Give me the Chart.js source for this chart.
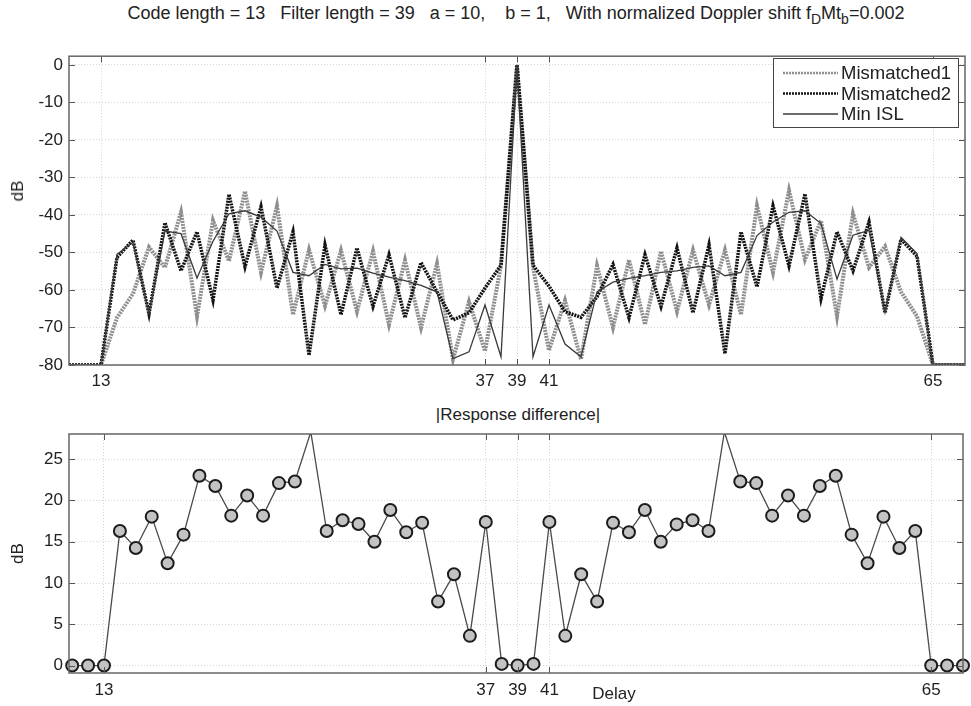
<!DOCTYPE html>
<html lang="en">
<head>
<meta charset="UTF-8">
<title>Code length 13 / Filter length 39</title>
<script src="https://cdn.jsdelivr.net/npm/chart.js"></script>
<style>
  body { margin: 0; background: #fff; font-family: "Liberation Sans", Arial, sans-serif; color: #222; }
  #wrap { position: relative; width: 971px; height: 706px; overflow: hidden; }
  .txt { position: absolute; white-space: nowrap; transform: translateX(-50%); font-size: 18px; line-height: 20px; }
  #mainTitle { left: 516px; top: 3px; }
  #mainTitle sub { font-size: 14px; vertical-align: -5px; line-height: 0; }
  #diffTitle { left: 518px; top: 405px; font-size: 17px; }
  #delayLabel { left: 614px; top: 684px; font-size: 17px; }
  #topDb { position: absolute; left: 18px; top: 191px; transform: translate(-50%, -50%) rotate(-90deg);
           font-size: 17px; line-height: 20px; white-space: nowrap; }
  #topBox { position: absolute; left: 0; top: 40px; }
  #bottomBox { position: absolute; left: 0; top: 400px; }
</style>
</head>
<body>
<div id="wrap">
  <div class="txt" id="mainTitle">Code length = 13&nbsp;&nbsp;&nbsp;Filter length = 39&nbsp;&nbsp;&nbsp;a = 10,&nbsp;&nbsp;&nbsp;&nbsp;b = 1,&nbsp;&nbsp;&nbsp;With normalized Doppler shift f<sub>D</sub>Mt<sub>b</sub>=0.002</div>
  <div id="topBox"><canvas id="topChart" width="971" height="360"></canvas></div>
  <div id="topDb">dB</div>
  <div class="txt" id="diffTitle">|Response difference|</div>
  <div id="bottomBox"><canvas id="bottomChart" width="971" height="306"></canvas></div>
  <div class="txt" id="delayLabel">Delay</div>
</div>

<script>
// delay axis (samples)
var delays = [11, 12, 13, 14, 15, 16, 17, 18, 19, 20, 21, 22, 23, 24, 25, 26, 27, 28, 29, 30,
              31, 32, 33, 34, 35, 36, 37, 38, 39, 40, 41, 42, 43, 44, 45, 46, 47, 48, 49, 50,
              51, 52, 53, 54, 55, 56, 57, 58, 59, 60, 61, 62, 63, 64, 65, 66, 67];

// responses in dB
var mismatched1 = [-80, -80, -80, -67.4, -61.0, -48.6, -54.0, -39.3, -67.0, -41.5,
                   -52.3, -33.7, -55.3, -37.6, -66.6, -49.3, -64.2, -49.5, -65.7, -49.7,
                   -69.2, -52.1, -70.0, -53.0, -78.5, -63.1, -76.3, -53.5, 0, -54.0,
                   -76.1, -62.8, -78.5, -53.6, -70.0, -52.0, -69.2, -49.7, -65.7, -49.4,
                   -64.0, -49.4, -66.6, -37.6, -55.3, -33.5, -51.9, -41.5, -67.0, -39.7,
                   -54.0, -48.4, -60.5, -67.0, -80, -80, -80];

var mismatched2 = [-80, -80, -80, -51.3, -46.7, -66.4, -42.1, -54.9, -44.5, -62.7,
                   -34.5, -53.8, -37.8, -59.5, -44.5, -77.4, -48.0, -66.6, -48.8, -64.4,
                   -50.6, -67.4, -52.7, -60.5, -68.0, -66.1, -59.5, -53.4, 0, -53.4,
                   -59.0, -65.8, -67.3, -61.8, -53.2, -67.4, -50.6, -64.4, -48.8, -66.1,
                   -48.0, -77.0, -44.5, -59.2, -37.6, -53.6, -34.4, -62.3, -44.5, -54.9,
                   -41.9, -66.1, -46.5, -51.0, -80, -80, -80];

var minIsl = [-80, -80, -80, -50.5, -47.3, -66.2, -44.3, -45.0, -56.8, -47.0,
              -39.7, -38.9, -40.6, -44.3, -55.3, -56.2, -53.2, -54.4, -54.2, -55.5,
              -56.6, -57.5, -58.8, -60.5, -78.3, -76.5, -64.0, -77.8, 0, -77.8,
              -64.0, -74.4, -77.8, -60.5, -57.9, -56.9, -56.2, -55.3, -54.9, -54.0,
              -53.6, -56.2, -55.3, -45.5, -41.9, -39.3, -38.9, -42.3, -57.1, -45.4,
              -44.1, -66.0, -46.0, -50.3, -80, -80, -80];

// |Mismatched1 - Mismatched2| in dB
var respDiff = [0, 0, 0, 16.3, 14.25, 18.04, 12.4, 15.86, 23.0, 21.76,
                18.16, 20.6, 18.16, 22.1, 22.3, 28.3, 16.3, 17.6, 17.15, 15.0,
                18.85, 16.15, 17.3, 7.75, 11.06, 3.6, 17.4, 0.2, 0, 0.2,
                17.4, 3.6, 11.06, 7.75, 17.3, 16.15, 18.85, 15.0, 17.1, 17.6,
                16.3, 28.3, 22.3, 22.1, 18.16, 20.6, 18.16, 21.76, 23.0, 15.86,
                12.4, 18.04, 14.25, 16.3, 0, 0, 0];

var xTicks = [13, 37, 39, 41, 65];
var topYTicks = [-80, -70, -60, -50, -40, -30, -20, -10, 0];
var bottomYTicks = [0, 5, 10, 15, 20, 25];

var FONT = '"Liberation Sans", Arial, sans-serif';
var TEXT = '#222';
var bottomYMax = 28.05;

function xyOf(vals) {
  return delays.map(function (d, i) { return { x: d, y: vals[i] }; });
}

function fixedTicks(list) {
  return function (scale) { scale.ticks = list.map(function (v) { return { value: v }; }); };
}

// MATLAB style box with inward tick marks on all four sides
var matlabAxes = {
  id: 'matlabAxes',
  afterDraw: function (chart) {
    var a = chart.chartArea, ctx = chart.ctx, L = 6;
    var xs = chart.scales.x, ys = chart.scales.y;
    ctx.save();
    ctx.strokeStyle = '#555';
    ctx.lineWidth = 1;
    ctx.beginPath();
    xs.ticks.forEach(function (t) {
      var px = Math.round(xs.getPixelForValue(t.value)) + 0.5;
      ctx.moveTo(px, a.bottom); ctx.lineTo(px, a.bottom - L);
      ctx.moveTo(px, a.top); ctx.lineTo(px, a.top + L);
    });
    ys.ticks.forEach(function (t) {
      var py = Math.round(ys.getPixelForValue(t.value)) + 0.5;
      ctx.moveTo(a.left, py); ctx.lineTo(a.left + L, py);
      ctx.moveTo(a.right, py); ctx.lineTo(a.right - L, py);
    });
    ctx.stroke();
    ctx.lineWidth = 1.5;
    ctx.strokeStyle = '#666';
    ctx.strokeRect(a.left, a.top, a.right - a.left, a.bottom - a.top);
    ctx.restore();
  }
};

// legend drawn inside the plot (top right) like MATLAB
var boxLegend = {
  id: 'boxLegend',
  afterDraw: function (chart, args, o) {
    var ctx = chart.ctx;
    ctx.save();
    ctx.fillStyle = '#fff';
    ctx.fillRect(o.x, o.y, o.w, o.h);
    ctx.strokeStyle = '#444';
    ctx.lineWidth = 1;
    ctx.strokeRect(o.x + 0.5, o.y + 0.5, o.w, o.h);
    chart.data.datasets.forEach(function (ds, i) {
      var ly = o.y + o.firstRow + i * o.rowGap;
      ctx.beginPath();
      ctx.setLineDash(ds.borderDash || []);
      ctx.strokeStyle = ds.borderColor;
      ctx.lineWidth = Math.min(ds.borderWidth, 2.5);
      ctx.moveTo(o.x + 10, ly);
      ctx.lineTo(o.x + 10 + o.lineLen, ly);
      ctx.stroke();
      ctx.setLineDash([]);
      ctx.fillStyle = TEXT;
      ctx.font = o.font;
      ctx.textBaseline = 'middle';
      ctx.fillText(ds.label, o.x + 13 + o.lineLen, ly + 1);
    });
    ctx.restore();
  }
};

function gridOpts() {
  return { color: '#d4d4d4', lineWidth: 1, drawTicks: false };
}

var tickFont = { family: FONT, size: 17 };

var topChart = new Chart(document.getElementById('topChart'), {
  type: 'line',
  data: {
    datasets: [
      { label: 'Mismatched1', data: xyOf(mismatched1), borderColor: '#8e8e8e', borderWidth: 4,
        borderDash: [2, 1], pointRadius: 0, order: 3 },
      { label: 'Mismatched2', data: xyOf(mismatched2), borderColor: '#141414', borderWidth: 3.5,
        borderDash: [2, 1], pointRadius: 0, order: 2 },
      { label: 'Min ISL', data: xyOf(minIsl), borderColor: '#3a3a3a', borderWidth: 1.3,
        pointRadius: 0, order: 1 }
    ]
  },
  options: {
    responsive: false,
    animation: false,
    layout: { padding: { top: 8, right: 6, left: 0, bottom: 0 } },
    plugins: {
      legend: { display: false },
      tooltip: { enabled: false },
      boxLegend: { x: 773, y: 18, w: 185, h: 69, firstRow: 15, rowGap: 20.5, lineLen: 55,
                   font: '18.5px ' + FONT }
    },
    scales: {
      x: {
        type: 'linear', min: 11, max: 67,
        afterBuildTicks: fixedTicks(xTicks),
        afterFit: function (s) { s.height = 35; },
        grid: gridOpts(),
        border: { display: false, dash: [1, 2] },
        ticks: { font: tickFont, color: TEXT, padding: 6, maxRotation: 0,
                 callback: function (v) { return String(v); } }
      },
      y: {
        min: -80, max: 2.3,
        afterBuildTicks: fixedTicks(topYTicks),
        afterFit: function (s) { s.width = 69; },
        grid: gridOpts(),
        border: { display: false, dash: [1, 2] },
        ticks: { font: tickFont, color: TEXT, padding: 6,
                 callback: function (v) { return String(v); } }
      }
    }
  },
  plugins: [matlabAxes, boxLegend]
});

var bottomChart = new Chart(document.getElementById('bottomChart'), {
  type: 'line',
  data: {
    datasets: [
      { label: '|Response difference|', data: xyOf(respDiff), borderColor: '#4a4a4a', borderWidth: 1.3,
        pointRadius: function (c) { return c.parsed && c.parsed.y > bottomYMax ? 0 : 6; },
        pointBackgroundColor: '#c3c3c3', pointBorderColor: '#1c1c1c', pointBorderWidth: 2,
        clip: { left: false, right: false, top: 0, bottom: false } }
    ]
  },
  options: {
    responsive: false,
    animation: false,
    layout: { padding: { top: 34, right: 4, left: 0, bottom: 0 } },
    plugins: { legend: { display: false }, tooltip: { enabled: false } },
    scales: {
      x: {
        type: 'linear', min: 10.8, max: 67,
        afterBuildTicks: fixedTicks(xTicks),
        afterFit: function (s) { s.height = 33; },
        grid: gridOpts(),
        border: { display: false, dash: [1, 2] },
        ticks: { font: tickFont, color: TEXT, padding: 7, maxRotation: 0,
                 callback: function (v) { return String(v); } }
      },
      y: {
        min: -0.9, max: bottomYMax,
        afterBuildTicks: fixedTicks(bottomYTicks),
        afterFit: function (s) { s.width = 69; },
        grid: gridOpts(),
        border: { display: false, dash: [1, 2] },
        ticks: { font: tickFont, color: TEXT, padding: 6,
                 callback: function (v) { return String(v); } },
        title: { display: true, text: 'dB', font: { family: FONT, size: 17 }, color: TEXT,
                 padding: { top: 8, bottom: 0 } }
      }
    }
  },
  plugins: [matlabAxes]
});
</script>
</body>
</html>
